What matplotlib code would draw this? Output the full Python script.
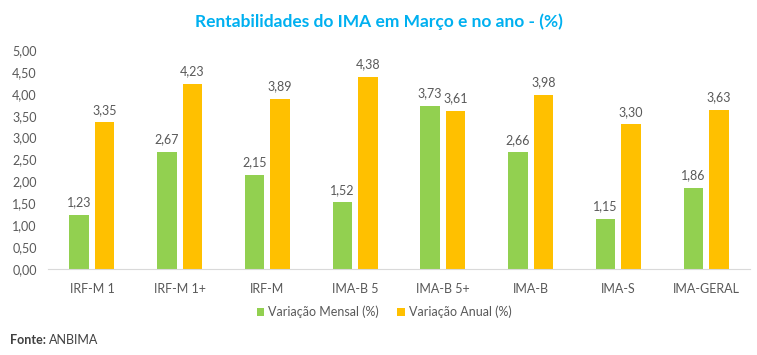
import numpy as np
import matplotlib.pyplot as plt

categorias = ["IRF-M 1", "IRF-M 1+", "IRF-M", "IMA-B 5", "IMA-B 5+", "IMA-B", "IMA-S", "IMA-GERAL"]
var_mensal = [1.23, 2.67, 2.15, 1.52, 3.73, 2.66, 1.15, 1.86]
var_anual = [3.35, 4.23, 3.89, 4.38, 3.61, 3.98, 3.30, 3.63]
yticks = [0, 0.5, 1, 1.5, 2, 2.5, 3, 3.5, 4, 4.5, 5]

verde = "#92D050"
amarelo = "#FFC000"
cinza = "#595959"

plt.rcParams["font.family"] = ["Lato", "DejaVu Sans"]

fig = plt.figure(figsize=(7.57, 3.55), dpi=100)
ax = fig.add_axes([48 / 757, (355 - 269) / 355, 702 / 757, 219 / 355])

x = np.arange(len(categorias))
w = 0.22
off = 0.145
b1 = ax.bar(x - off, var_mensal, w, color=verde, label="Variação Mensal (%)")
b2 = ax.bar(x + off, var_anual, w, color=amarelo, label="Variação Anual (%)")

for bars in (b1, b2):
    for b in bars:
        ax.text(b.get_x() + b.get_width() / 2, b.get_height() + 0.15,
                f"{b.get_height():.2f}".replace(".", ","),
                ha="center", va="bottom", fontsize=9, color=cinza)

ax.set_xlim(-0.5, len(categorias) - 0.5)
ax.set_ylim(0, 5)
ax.set_yticks(yticks)
ax.set_yticklabels([f"{v:.2f}".replace(".", ",") for v in yticks])
ax.set_xticks(x)
ax.set_xticklabels(categorias)
ax.tick_params(axis="both", length=0, labelsize=9, colors=cinza)
ax.tick_params(axis="x", pad=10)
ax.tick_params(axis="y", pad=8)
for s in ("top", "right", "left"):
    ax.spines[s].set_visible(False)
ax.spines["bottom"].set_color("#D9D9D9")

fig.text(0.5, 1 - 22 / 355, "Rentabilidades do IMA em Março e no ano - (%)",
         ha="center", va="center", fontsize=12.5, fontweight="bold", color="#00B0F0")

fig.legend(loc="center", bbox_to_anchor=(384 / 757, 1 - 312 / 355), ncol=2, frameon=False,
           fontsize=9, handlelength=0.6, handleheight=0.6, columnspacing=1.5,
           handletextpad=0.3, labelcolor=cinza)

fig.text(10 / 757, 1 - 340 / 355, "Fonte:", fontsize=9, fontweight="bold", color="#404040", va="center")
fig.text(49 / 757, 1 - 340 / 355, "ANBIMA", fontsize=9, color="#404040", va="center")

fig.savefig("out.png", dpi=100)
